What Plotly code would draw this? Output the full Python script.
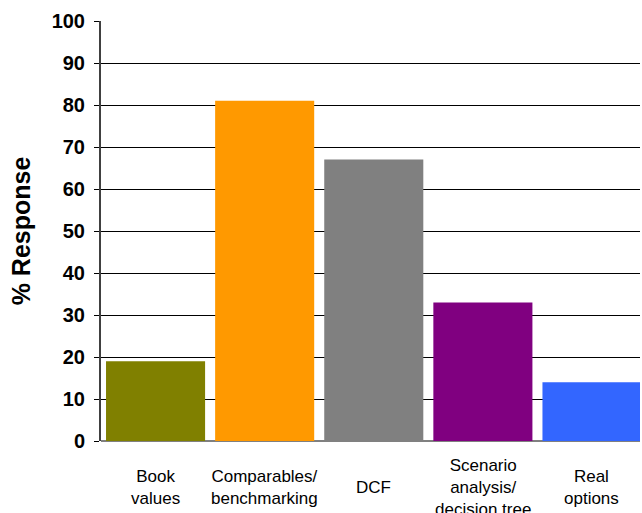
import plotly.graph_objects as go

categories = ["Book values", "Comparables/ benchmarking", "DCF", "Scenario analysis/ decision tree", "Real options"]
label_lines = ["Book<br>values", "Comparables/<br>benchmarking", "DCF", "Scenario<br>analysis/<br>decision tree", "Real<br>options"]
values = [19, 81, 67, 33, 14]
colors = ["#808000", "#FF9900", "#808080", "#800080", "#3366FF"]
y_ticks = list(range(0, 101, 10))

fig = go.Figure()
fig.add_trace(go.Bar(x=list(range(len(categories))), y=values,
                     marker=dict(color=colors, line=dict(width=0)),
                     hovertext=categories, hoverinfo="text+y"))

for i, lab in enumerate(label_lines):
    fig.add_annotation(x=i, y=0, xref="x", yref="paper", text=lab, showarrow=False,
                       yanchor="middle", xanchor="center", yshift=-46,
                       font=dict(family="Liberation Sans, Arial", size=17, color="#000000"))

fig.update_layout(
    width=642, height=513,
    margin=dict(l=101, r=2, t=21, b=72),
    paper_bgcolor="white", plot_bgcolor="white",
    bargap=0.092,
    showlegend=False,
    xaxis=dict(range=[-0.5, 4.44], showticklabels=False, showgrid=False, showline=False,
               ticks="", zeroline=False),
    yaxis=dict(range=[0, 100], tickvals=y_ticks, showgrid=True, gridcolor="#000000", gridwidth=1,
               showline=True, linecolor="#404040", linewidth=2, ticks="outside", ticklen=5,
               tickcolor="#000000", zeroline=True, zerolinecolor="#808080", zerolinewidth=2,
               ticklabelstandoff=5,
               tickfont=dict(family="Liberation Sans, Arial", size=20, color="#000000", weight="bold"),
               title=dict(text="% Response", standoff=14,
                          font=dict(family="Liberation Sans, Arial", size=25, color="#000000", weight="bold"))),
)
fig.write_html("out.html")
